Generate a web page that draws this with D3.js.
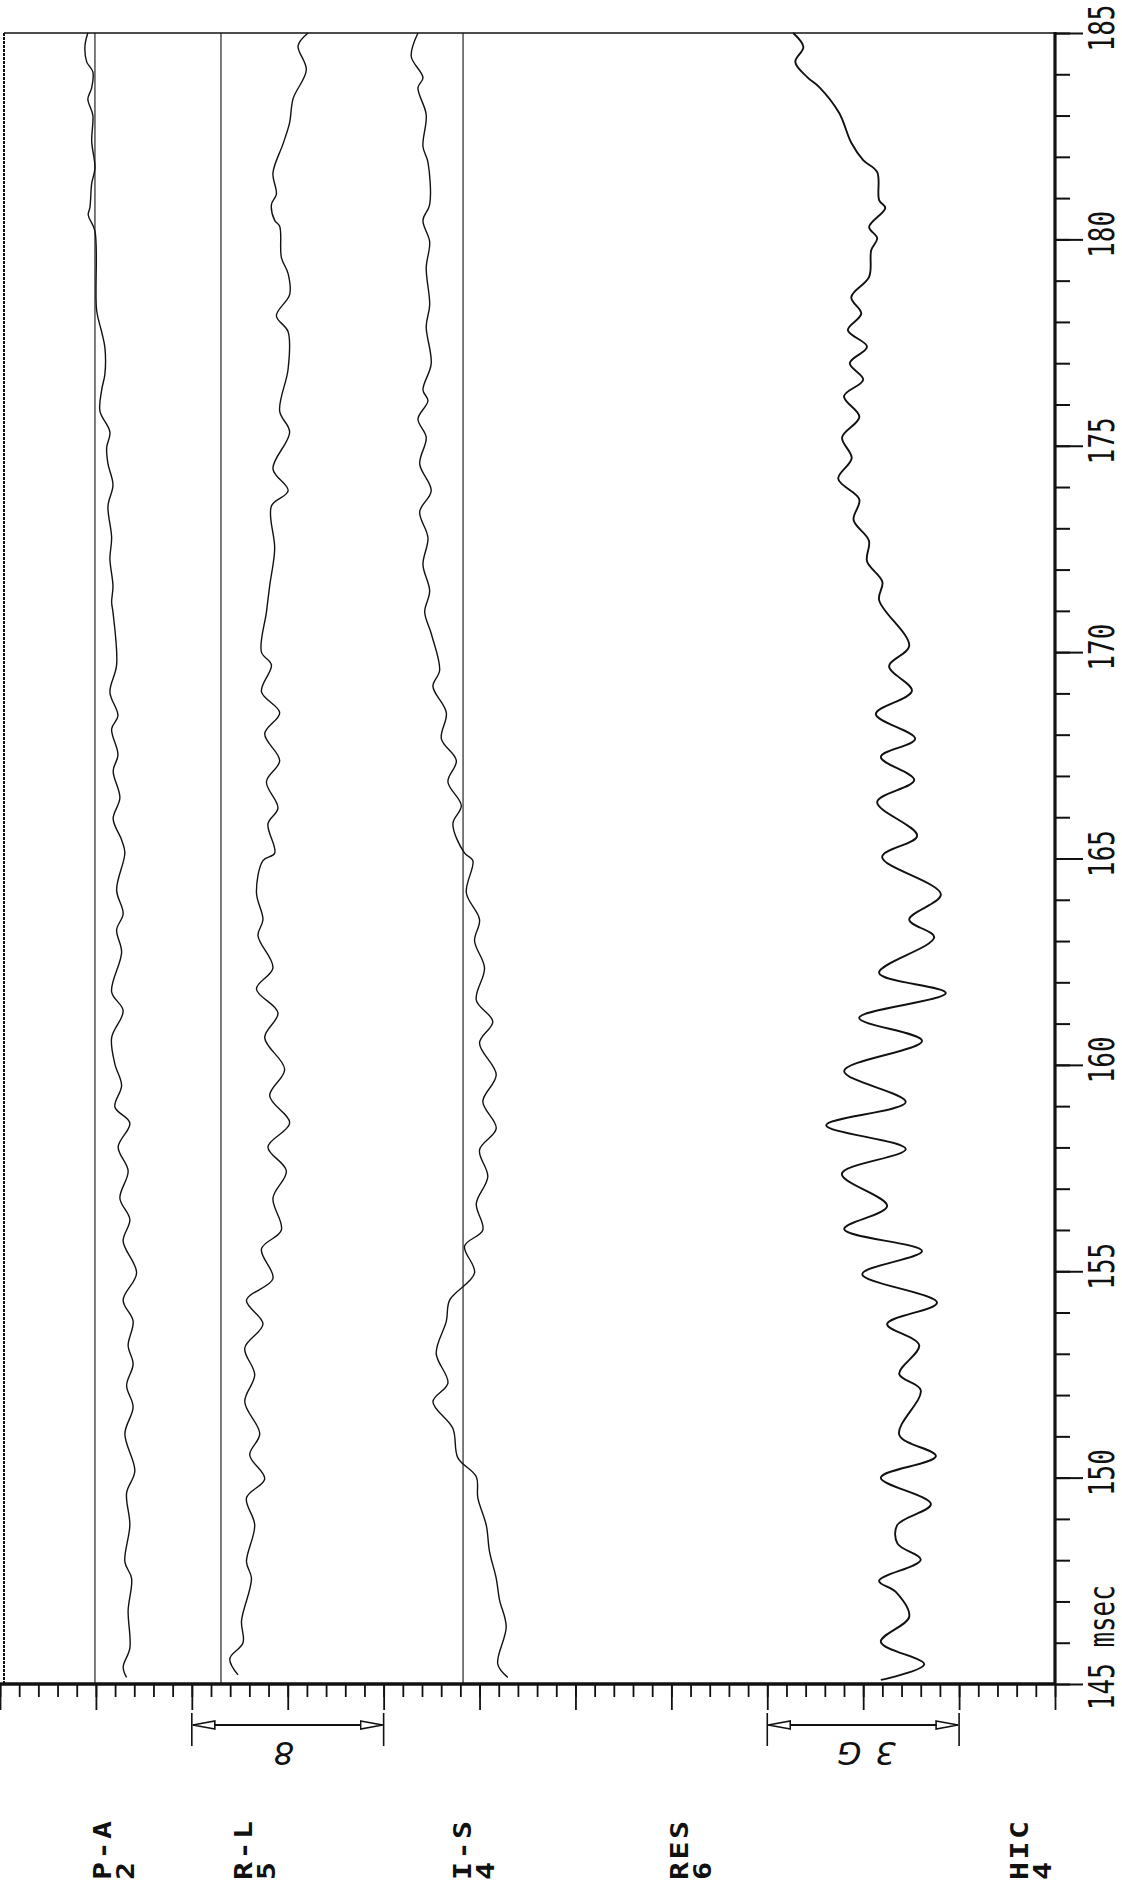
<!DOCTYPE html>
<html>
<head>
<meta charset="utf-8">
<script src="https://cdn.jsdelivr.net/npm/d3@7"></script>
<style>
  html, body { margin: 0; padding: 0; background: #fff; }
  svg { display: block; }
</style>
</head>
<body>
<svg id="chart" width="1122" height="1899"></svg>
<script>
// ---- channel captions (name + gain) ----
const channelNames = ["P-A", "R-L", "I-S", "RES", "HIC"];
const channelGains = ["2", "5", "4", "6", "4"];

// ---- time axis (ms) ----
const timeDomain = [145, 185];
const timeMinorTicks = d3.range(145, 186, 1);
const timeMajorTicks = d3.range(145, 186, 5);

// ---- amplitude grid (divisions) ----
const divDomain = [0, 55];
const divMinorTicks = d3.range(0, 56, 1);
const divMajorTicks = d3.range(0, 56, 5);

// zero lines of the P-A, R-L and I-S channels, in divisions
const zeroLines = [4.95, 11.52, 24.14];

// calibration bars: [from, to] in divisions, with their hand-written labels
const calibBars = [[10, 20], [40, 50]];
const calibTexts = ["8", "3G"];

// ---- P-A trace: time (ms) / amplitude (div) ----
const paTime = [185.00,184.69,184.30,184.06,183.67,183.40,183.01,182.38,181.73,181.35,180.78,180.59,180.20,178.27,177.76,177.37,176.74,176.35,175.84,175.33,174.95,174.56,174.05,173.54,172.77,172.26,171.60,171.21,170.97,169.69,169.03,168.46,168.14,167.51,167.12,166.47,165.96,165.45,165.14,164.24,163.66,163.27,162.73,161.77,161.31,160.66,160.02,159.50,158.98,158.59,158.01,157.43,156.77,156.25,155.73,154.96,154.30,153.79,153.20,152.75,152.23,151.71,151.06,150.16,149.63,148.85,147.96,147.56,146.78,145.87,145.41,145.16];
const paValue = [4.58,4.43,4.52,4.84,4.78,4.58,4.84,4.78,4.95,4.78,4.69,4.60,4.95,5.04,5.30,5.47,5.47,5.30,5.21,5.73,5.56,5.63,5.89,5.63,5.82,5.73,5.89,5.82,5.89,6.08,5.73,6.15,5.82,6.15,5.90,6.25,5.90,6.34,6.51,6.08,6.42,6.08,6.34,5.82,6.42,5.82,5.99,6.34,5.99,6.77,6.16,6.68,6.25,6.77,6.42,7.12,6.42,6.94,6.68,6.94,6.60,6.94,6.51,7.03,6.60,6.77,6.51,6.86,6.68,6.77,6.42,6.60];

// ---- R-L trace ----
const rlTime = [185.00,184.69,184.11,183.41,182.83,182.32,181.61,181.10,180.84,180.46,180.32,179.56,179.17,178.66,178.15,177.76,176.86,175.84,175.33,174.44,173.91,173.54,172.50,171.61,170.97,170.00,169.69,169.04,168.53,168.02,167.37,166.86,166.22,165.84,165.13,164.95,164.17,163.52,163.13,162.35,161.84,161.26,160.66,159.89,159.25,158.59,158.01,157.43,156.77,156.00,155.54,154.82,154.30,153.72,153.14,152.49,151.84,151.06,150.55,149.97,149.51,148.85,147.96,147.56,146.53,146.00,145.61,145.22];
const rlValue = [16.06,15.54,15.97,15.28,15.10,14.76,14.23,14.41,14.15,14.32,14.58,14.67,15.02,15.10,14.41,15.02,15.02,14.58,15.10,14.23,15.02,14.15,14.32,14.06,13.89,13.63,14.15,13.63,14.58,13.80,14.58,13.89,14.49,13.97,14.32,13.71,13.37,13.71,13.45,14.23,13.37,14.49,13.80,14.84,14.06,15.10,13.97,14.93,14.23,14.67,13.63,14.23,12.85,13.71,12.76,13.28,12.76,13.54,13.02,13.80,12.85,13.28,12.85,13.11,12.59,12.67,11.98,12.41];

// ---- I-S trace ----
const isTime = [185.00,184.43,183.92,183.67,183.02,182.25,181.87,180.84,180.46,179.94,179.31,178.41,177.89,176.99,176.35,176.09,175.65,175.20,174.56,173.91,173.40,172.77,172.12,171.48,170.97,170.45,169.56,169.17,168.53,167.90,167.37,166.86,166.28,165.84,165.13,164.95,164.17,163.52,163.00,162.35,161.57,161.05,160.53,159.76,159.11,158.46,157.94,157.29,156.64,156.00,155.61,154.96,154.30,153.79,153.01,152.29,151.84,151.19,150.48,150.02,149.51,148.85,148.21,147.56,147.04,146.39,145.48,145.16];
const isValue = [21.79,21.44,22.05,21.79,22.22,22.05,22.31,22.40,22.05,22.40,22.22,22.40,22.22,22.48,22.05,22.31,21.79,22.22,21.88,22.48,21.88,22.31,22.05,22.40,22.14,22.48,22.92,22.57,23.27,23.01,23.79,23.35,24.05,23.61,24.22,24.65,24.31,25.00,24.74,25.26,24.83,25.69,25.00,25.87,25.17,25.87,25.00,25.43,24.83,25.17,24.22,24.74,23.44,23.27,22.74,23.35,22.57,23.61,23.87,24.83,24.91,25.35,25.52,25.87,26.04,26.39,25.95,26.47];

// ---- RES trace ----
const resTime = [185.00,184.66,184.30,183.93,183.69,183.06,182.34,181.92,181.63,180.95,180.76,180.30,180.03,179.74,179.09,178.60,178.20,177.80,177.40,177.00,176.60,176.20,175.70,175.20,174.70,174.20,173.70,173.20,172.70,172.20,171.70,171.26,170.15,169.66,169.06,168.50,167.90,167.46,166.90,166.37,165.55,165.04,164.13,163.52,163.09,162.23,161.74,161.14,160.58,159.85,159.10,158.54,157.96,157.36,156.58,156.02,155.49,154.93,154.24,153.72,153.21,152.51,152.12,151.04,150.52,150.00,149.36,148.85,148.40,148.01,147.50,147.23,146.63,146.02,145.48,145.10];
const resValue = [41.35,41.88,41.46,42.08,42.71,43.75,44.38,45.00,45.73,45.83,46.15,45.31,45.73,45.42,45.31,44.38,44.90,44.20,45.20,44.30,45.00,44.00,44.80,43.90,44.40,43.70,44.80,44.50,45.30,45.20,46.00,45.83,47.40,46.35,47.54,45.66,47.71,45.92,47.66,45.73,47.81,45.99,49.05,47.40,48.70,45.83,49.31,44.79,48.07,44.01,47.22,43.07,47.22,43.89,46.25,44.01,48.07,44.95,48.85,46.25,47.92,46.88,48.00,46.88,48.79,45.92,48.53,46.77,46.79,48.00,45.83,46.70,47.40,45.92,48.18,45.92];

const traces = [
  { time: paTime, value: paValue, width: 1.4 },
  { time: rlTime, value: rlValue, width: 1.4 },
  { time: isTime, value: isValue, width: 1.4 },
  { time: resTime, value: resValue, width: 1.9 }
];

// ---------------- layout ----------------
const svg = d3.select("#chart");
const plotLeft = 4, plotRight = 1055, plotTop = 33, plotBottom = 1684;

const tScale = d3.scaleLinear().domain(timeDomain).range([plotBottom, plotTop]);
const xScale = d3.scaleLinear().domain(divDomain).range([0, plotRight]);

const ink = "#111";
const plotterFont = "'DejaVu Sans Mono', 'Liberation Mono', monospace";

// frame: thin top and left edges
svg.append("line").attr("x1", plotLeft).attr("x2", plotRight)
  .attr("y1", tScale(185)).attr("y2", tScale(185))
  .attr("stroke", ink).attr("stroke-width", 1.4);
svg.append("line").attr("x1", plotLeft).attr("x2", plotLeft)
  .attr("y1", plotTop).attr("y2", plotBottom)
  .attr("stroke", ink).attr("stroke-width", 2).attr("stroke-dasharray", "3 1");

// zero lines
svg.append("g").selectAll("line").data(zeroLines).join("line")
  .attr("x1", d => xScale(d)).attr("x2", d => xScale(d))
  .attr("y1", plotTop).attr("y2", plotBottom)
  .attr("stroke", ink).attr("stroke-width", 1.1);

// traces
const line = d3.line()
  .x(d => xScale(d[1]))
  .y(d => tScale(d[0]))
  .curve(d3.curveCatmullRom.alpha(0.5));

svg.append("g").selectAll("path").data(traces).join("path")
  .attr("d", tr => line(tr.time.map((t, i) => [t, tr.value[i]])))
  .attr("fill", "none").attr("stroke", ink).attr("stroke-width", tr => tr.width)
  .attr("stroke-linejoin", "round");

// right-hand time axis (minor + major ticks)
const rightAxisMinor = d3.axisRight(tScale).tickValues(timeMinorTicks).tickSize(15).tickFormat("");
const rightAxisMajor = d3.axisRight(tScale).tickValues(timeMajorTicks).tickSize(28).tickFormat("");
[rightAxisMinor, rightAxisMajor].forEach(ax => {
  const g = svg.append("g").attr("transform", `translate(${plotRight},0)`).call(ax);
  g.select(".domain").remove();
  g.selectAll("line").attr("stroke", ink).attr("stroke-width", 2);
});
svg.append("line").attr("x1", plotRight).attr("x2", plotRight)
  .attr("y1", plotTop - 1).attr("y2", plotBottom + 1)
  .attr("stroke", ink).attr("stroke-width", 3.2);

// time labels, rotated, in a narrow plotter face
const timeLabelG = svg.append("g")
  .attr("font-family", plotterFont).attr("font-size", 36).attr("fill", ink);
timeLabelG.selectAll("text").data(timeMajorTicks.filter(v => v > 145)).join("text")
  .attr("transform", d => `translate(1114,${tScale(d) - 5}) rotate(-90) scale(0.72,1)`)
  .attr("text-anchor", "middle")
  .text(d => d);
timeLabelG.append("text")
  .attr("transform", `translate(1114,${tScale(145) + 26}) rotate(-90) scale(0.72,1)`)
  .attr("text-anchor", "start")
  .text("145 msec");

// bottom amplitude grid
const bottomAxisMinor = d3.axisBottom(xScale).tickValues(divMinorTicks).tickSize(13).tickFormat("");
const bottomAxisMajor = d3.axisBottom(xScale).tickValues(divMajorTicks).tickSize(26).tickFormat("");
[bottomAxisMinor, bottomAxisMajor].forEach(ax => {
  const g = svg.append("g").attr("transform", `translate(0,${plotBottom})`).call(ax);
  g.select(".domain").remove();
  g.selectAll("line").attr("stroke", ink).attr("stroke-width", 1.8);
});
svg.append("line").attr("x1", 0).attr("x2", plotRight + 1)
  .attr("y1", plotBottom).attr("y2", plotBottom)
  .attr("stroke", ink).attr("stroke-width", 3.4);

// calibration bars with hollow arrow heads
const defs = svg.append("defs");
defs.append("marker")
  .attr("id", "hollowHead")
  .attr("viewBox", "0 0 24 12")
  .attr("refX", 23).attr("refY", 6)
  .attr("markerUnits", "userSpaceOnUse")
  .attr("markerWidth", 24).attr("markerHeight", 12)
  .attr("orient", "auto-start-reverse")
  .append("path")
  .attr("d", "M1,2 L23,6 L1,10 Z")
  .attr("fill", "#fff").attr("stroke", ink).attr("stroke-width", 1.6);

const barY = 1725;
const calibG = svg.append("g");
calibBars.forEach(([a, b], i) => {
  [a, b].forEach(v => {
    calibG.append("line")
      .attr("x1", xScale(v)).attr("x2", xScale(v))
      .attr("y1", plotBottom + 29).attr("y2", plotBottom + 62)
      .attr("stroke", ink).attr("stroke-width", 1.6);
  });
  calibG.append("line")
    .attr("x1", xScale(a) + 1).attr("x2", xScale(b) - 1)
    .attr("y1", barY).attr("y2", barY)
    .attr("stroke", ink).attr("stroke-width", 2)
    .attr("marker-start", "url(#hollowHead)")
    .attr("marker-end", "url(#hollowHead)");
  // hand-written caption, written upside down
  calibG.append("text")
    .attr("transform", `translate(${(xScale(a) + xScale(b)) / 2 - 4},${barY + 28}) rotate(180)`)
    .attr("text-anchor", "middle").attr("dominant-baseline", "central")
    .attr("font-family", "'DejaVu Sans', sans-serif").attr("font-style", "italic")
    .attr("font-weight", 200).attr("font-size", 32)
    .attr("letter-spacing", i === 1 ? 14 : 0)
    .attr("fill", ink)
    .text(calibTexts[i]);
});

// channel captions along the bottom, rotated; glyphs stretched along the reading direction
const captionX = [111, 252, 471, 688, 1028];
const capG = svg.append("g")
  .attr("font-family", plotterFont).attr("font-weight", "bold")
  .attr("font-size", 24).attr("fill", ink).attr("letter-spacing", 2);
channelNames.forEach((name, i) => {
  capG.append("text")
    .attr("transform", `translate(${captionX[i]},1880) rotate(-90) scale(1.25,1)`)
    .attr("text-anchor", "start").text(name);
  capG.append("text")
    .attr("transform", `translate(${captionX[i] + 23},1880) rotate(-90) scale(1.25,1)`)
    .attr("text-anchor", "start").text(channelGains[i]);
});
</script>
</body>
</html>
